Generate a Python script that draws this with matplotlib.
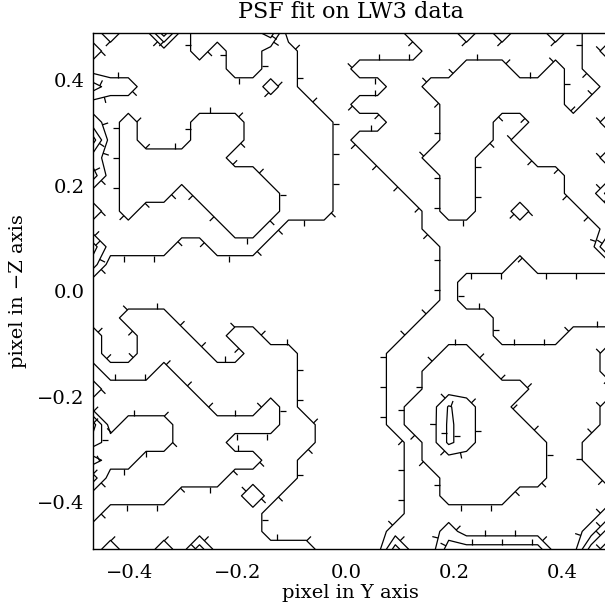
import numpy as np
import matplotlib
matplotlib.use("Agg")
import matplotlib.pyplot as plt
from matplotlib.collections import LineCollection

# fit error level on the sub-pixel grid, rows from top (+0.49) to bottom, columns left to right
ROWS = [
    "1211412222" "3000000011" "1212112122",
    "2111112122" "1100000001" "1111111123",
    "1111111122" "1100011111" "1222112122",
    "3221111111" "1100000112" "2222222112",
    "1111111111" "1110011111" "2222222122",
    "2121112221" "1111000111" "2221122223",
    "4121112221" "1111011111" "2221222222",
    "2122222211" "1111001112" "2211122223",
    "3122222222" "1111000111" "2211111222",
    "1122212222" "2111000011" "2211111224",
    "2121111222" "2111000001" "2211211122",
    "1111111122" "1000000001" "1111111112",
    "3111100111" "0000000000" "1111111114",
    "2000000000" "0000000000" "1111011111",
    "0000000000" "0000000000" "1000000000",
    "0000000000" "0000000000" "1000000000",
    "0011100000" "0000000001" "1110000000",
    "1001110011" "0000000011" "1110000111",
    "1001111001" "1100000111" "2211111112",
    "2111211111" "1100000112" "2221111112",
    "3222221111" "1100000112" "2222211111",
    "2222222111" "2100000122" "3322111112",
    "5233322222" "2110000122" "3322211112",
    "4333322211" "1110000012" "3322221122",
    "2332222222" "1100000012" "2222221122",
    "4222222211" "1100000011" "2222221112",
    "2222211111" "1000000011" "2222111111",
    "2111111111" "0000000011" "1111111112",
    "1111111111" "0000000111" "2111111124",
    "1211213111" "1110000311" "3333331145",
]
# (column, row, value) for cells lying between two levels
TWEAKS = [(10, 3, 1.9), (9, 26, 2.4), (20, 21, 3.6), (20, 22, 3.7), (20, 23, 3.7)]

X_START, X_STEP = -0.469, 0.03296
Y_START, Y_STEP = 0.4885, -0.03369
LEVELS = [0.5, 1.5, 2.5, 3.5, 4.5]
XTICKS = [-0.4, -0.2, 0.0, 0.2, 0.4]
YTICKS = [-0.4, -0.2, 0.0, 0.2, 0.4]

z = np.array([[float(c) for c in r] for r in ROWS])
for i, j, v in TWEAKS:
    z[j, i] = v
x = X_START + X_STEP * np.arange(z.shape[1])
y = Y_START + Y_STEP * np.arange(z.shape[0])
# contour wants increasing y
y = y[::-1]
z = z[::-1]


def bilinear(px, py):
    fi = np.clip((px - x[0]) / (x[1] - x[0]), 0, len(x) - 1.0001)
    fj = np.clip((py - y[0]) / (y[1] - y[0]), 0, len(y) - 1.0001)
    i0, j0 = int(fi), int(fj)
    tx, ty = fi - i0, fj - j0
    return (z[j0, i0] * (1 - tx) * (1 - ty) + z[j0, i0 + 1] * tx * (1 - ty)
            + z[j0 + 1, i0] * (1 - tx) * ty + z[j0 + 1, i0 + 1] * tx * ty)


plt.rcParams["font.family"] = ["DejaVu Serif"]
W, H = 605, 609
fig = plt.figure(figsize=(W / 100, H / 100), dpi=100)
ax = fig.add_axes([92.7 / W, 1 - 549.2 / H, 516.2 / W, 515.9 / H])

cs = ax.contour(x, y, z, levels=LEVELS, colors="black", linewidths=0.9)
ax.set_xlim(x[0], x[-1])
ax.set_ylim(y[0], y[-1])

# downhill ticks along every contour line
to_pix = ax.transData
to_data = ax.transData.inverted()
spacing, tick_len = 30.0, 6.0
ticks = []
for lev, segs in zip(LEVELS, cs.allsegs):
    for seg in segs:
        if len(seg) < 2:
            continue
        p = to_pix.transform(seg)
        d = np.hypot(*np.diff(p, axis=0).T)
        cum = np.concatenate([[0], np.cumsum(d)])
        s = 12.0
        while s < cum[-1]:
            k = min(np.searchsorted(cum, s) - 1, len(d) - 1)
            k = max(k, 0)
            if d[k] == 0:
                s += spacing
                continue
            t = (s - cum[k]) / d[k]
            pt = p[k] + t * (p[k + 1] - p[k])
            tang = (p[k + 1] - p[k]) / d[k]
            nrm = np.array([-tang[1], tang[0]])
            a = to_data.transform(pt + 2.5 * nrm)
            b = to_data.transform(pt - 2.5 * nrm)
            if bilinear(*a) > bilinear(*b):
                nrm = -nrm
            end = pt + tick_len * nrm
            ticks.append(to_data.transform(np.array([pt, end])))
            s += spacing
ax.add_collection(LineCollection(ticks, colors="black", linewidths=0.9))

ax.set_xticks(XTICKS)
ax.set_yticks(YTICKS)
ax.set_xticklabels([f"{v:.1f}".replace("-", "\u2212") for v in XTICKS])
ax.set_yticklabels([f"{v:.1f}".replace("-", "\u2212") for v in YTICKS])
ax.tick_params(length=0, labelsize=14)
ax.tick_params(axis="x", pad=11)
ax.tick_params(axis="y", pad=6)
for sp in ax.spines.values():
    sp.set_linewidth(1.0)

fig.text(350.8 / W, 1 - 12 / H, "PSF fit on LW3 data", ha="center", va="center", fontsize=16)
fig.text(350.8 / W, 1 - 593 / H, "pixel in Y axis", ha="center", va="center", fontsize=14)
fig.text(18 / W, 1 - 291 / H, "pixel in \u2212Z axis", ha="center", va="center",
         rotation=90, fontsize=14)

fig.savefig("out.png", dpi=100)
